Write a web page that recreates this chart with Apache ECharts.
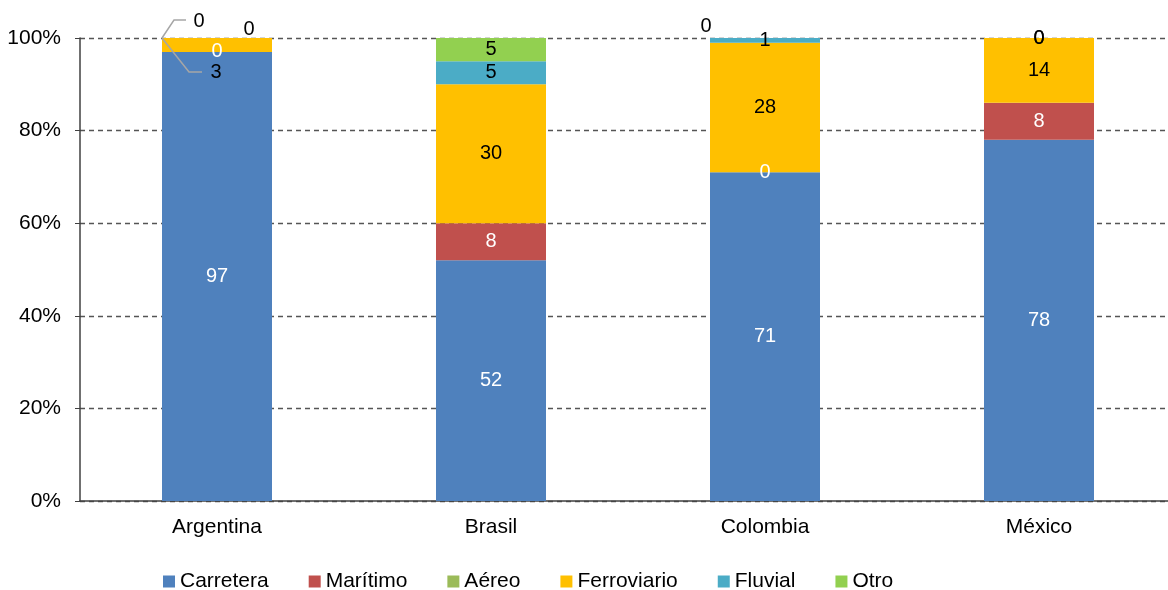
<!DOCTYPE html>
<html><head><meta charset="utf-8">
<script src="https://cdn.jsdelivr.net/npm/echarts@6/dist/echarts.min.js"></script>
<style>html,body{margin:0;padding:0;background:#fff}#c{width:1168px;height:590px}</style>
</head><body><div id="c"></div>
<script>
const categories = ['Argentina', 'Brasil', 'Colombia', 'México'];
const seriesNames = ['Carretera', 'Marítimo', 'Aéreo', 'Ferroviario', 'Fluvial', 'Otro'];
const carretera = [97, 52, 71, 78];
const maritimo = [0, 8, 0, 8];
const aereo = [0, 0, 0, 0];
const ferroviario = [3, 30, 28, 14];
const fluvial = [0, 5, 1, 0];
const otro = [0, 5, 0, 0];
const yTicks = [0, 20, 40, 60, 80, 100];

const values = [carretera, maritimo, aereo, ferroviario, fluvial, otro];
const colors = ['#4F81BD', '#C0504D', '#9BBB59', '#FFC000', '#4BACC6', '#92D050'];
const labelColors = ['#fff', '#fff', '#000', '#000', '#000', '#000'];
const FONT = 'Liberation Sans, Arial, sans-serif';
const BAR_W = 110;

// label moves (dx, dy) for crowded labels: key "series-data"
const moves = {
  '3-0': { dx: -1, dy: 28 },
  '4-0': { dx: -18, dy: -17 },
  '5-0': { dx: 32, dy: -9 },
  '5-2': { dx: -59, dy: -12 }
};

const series = values.map((arr, si) => ({
  name: seriesNames[si],
  type: 'bar',
  stack: 'total',
  barWidth: BAR_W,
  itemStyle: { color: colors[si] },
  label: {
    show: si !== 2,
    position: 'inside',
    color: labelColors[si],
    fontFamily: FONT,
    fontSize: 20
  },
  labelLayout: function (p) {
    const m = moves[p.seriesIndex + '-' + p.dataIndex];
    return m ? { dx: m.dx, dy: m.dy } : {};
  },
  data: arr
}));

const chart = echarts.init(document.getElementById('c'));
chart.setOption({
  animation: false,
  backgroundColor: '#fff',
  grid: { left: 80, top: 38, bottom: 89, right: -8, outerBoundsMode: 'none', containLabel: false },
  legend: {
    top: 566,
    left: 158,
    itemWidth: 12,
    itemHeight: 12,
    itemGap: 40,
    icon: 'rect',
    textStyle: { fontFamily: FONT, fontSize: 21, color: '#000' },
    data: seriesNames
  },
  xAxis: {
    type: 'category',
    data: categories,
    axisLine: { lineStyle: { color: '#404040', width: 1.5 } },
    axisTick: { show: false },
    axisLabel: { color: '#000', fontFamily: FONT, fontSize: 21, margin: 16 }
  },
  yAxis: {
    type: 'value',
    min: yTicks[0],
    max: yTicks[yTicks.length - 1],
    interval: 20,
    axisLine: { show: true, lineStyle: { color: '#404040', width: 1.5 } },
    axisTick: { show: true, length: 5, lineStyle: { color: '#404040' } },
    axisLabel: { color: '#000', fontFamily: FONT, fontSize: 21, margin: 19, formatter: '{value}%' },
    splitLine: { show: true, lineStyle: { color: '#555', type: [5, 4], width: 1.3 } }
  },
  series: series
});

// leader lines for Argentina's crowded labels, anchored at the bar's top-left corner
const topPt = chart.convertToPixel({ xAxisIndex: 0, yAxisIndex: 0 }, [categories[0], 100]);
const bx = topPt[0] - BAR_W / 2, by = topPt[1];
const lineStyle = { stroke: '#A6A6A6', lineWidth: 1.5, fill: null };
chart.setOption({
  graphic: [
    { type: 'polyline', silent: true, z: 10, shape: { points: [[bx, by], [bx + 27, by + 34], [bx + 40, by + 34]] }, style: lineStyle },
    { type: 'polyline', silent: true, z: 10, shape: { points: [[bx, by], [bx + 12, by - 18], [bx + 24, by - 18]] }, style: lineStyle }
  ]
});
</script></body></html>
